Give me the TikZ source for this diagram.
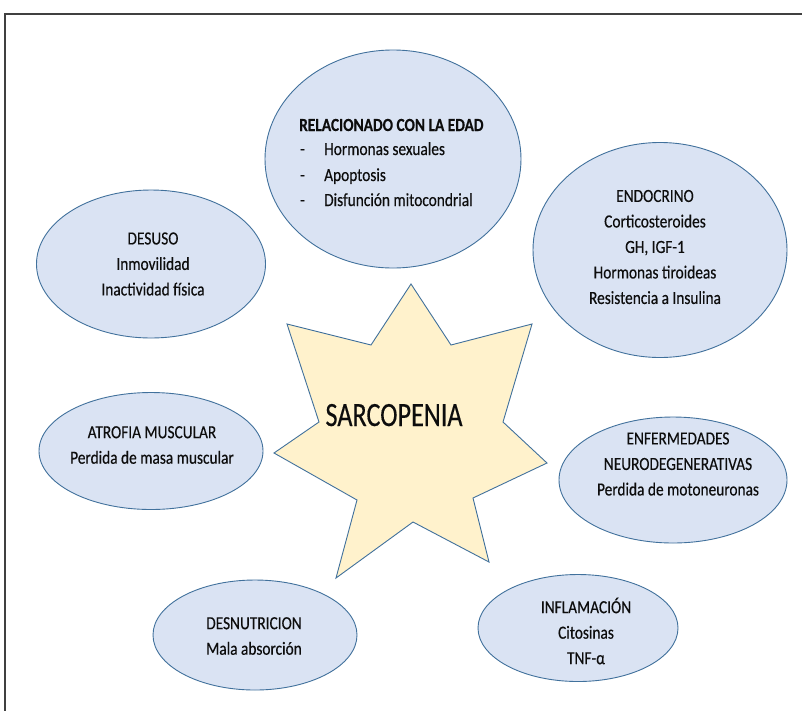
\documentclass[tikz,border=0pt]{standalone}
\usepackage{fontspec}
\setmainfont[FakeStretch=0.83,FakeBold=0.35]{Carlito}
\newfontfamily\bigfont[FakeStretch=0.77,FakeBold=0.3]{Carlito}
\usetikzlibrary{shapes.geometric}
\definecolor{fillblue}{HTML}{DAE3F3}
\definecolor{edgeblue}{HTML}{41719C}
\definecolor{starfill}{HTML}{FFF2CC}
\definecolor{framecol}{HTML}{404040}
\definecolor{txt}{HTML}{0D0D0D}
\tikzset{
  ellip/.style={ellipse, draw=edgeblue, fill=fillblue, line width=0.9pt, inner sep=0pt},
  lbl/.style={align=center, inner sep=0pt, text=txt, font=\fontsize{18.5}{25.5}\selectfont},
  ltxt/.style={inner sep=0pt, text=txt, font=\fontsize{18.5}{25.5}\selectfont, anchor=base west},
}
\begin{document}
\begin{tikzpicture}[x=1pt,y=-1pt]
\useasboundingbox (0,0) rectangle (802,710);
\fill[white] (0,0) rectangle (802,710);
% frame
\coordinate (fa) at (5,711);
\coordinate (fb) at (5,14);
\coordinate (fc) at (803,14);
\draw[framecol, line width=1.3pt] (fa) -- (fb) -- (fc);
% star
\draw[edgeblue, fill=starfill, line width=0.9pt, line join=miter]
  (411,284) -- (451,345) -- (532,324) -- (503,422) -- (547,463) -- (473,498)
  -- (489,562) -- (413,522) -- (336,578) -- (357,500) -- (274,453) -- (319,422)
  -- (287,324) -- (371,345) -- cycle;
\node[inner sep=0pt, anchor=base, text=txt, font=\bigfont\fontsize{34}{40}\selectfont] (sarc) at (394,426) {SARCOPENIA};
% ellipses
\node[ellip, minimum width=256pt, minimum height=218pt] (age) at (393,159) {};
\node[ellip, minimum width=254pt, minimum height=215pt] (endo) at (660,250) {};
\node[ellip, minimum width=229pt, minimum height=148pt] (desuso) at (151,264) {};
\node[ellip, minimum width=224pt, minimum height=117pt] (atrof) at (151,451) {};
\node[ellip, minimum width=228pt, minimum height=126pt] (enferm) at (673,480) {};
\node[ellip, minimum width=204pt, minimum height=110pt] (desnut) at (255,635) {};
\node[ellip, minimum width=200pt, minimum height=107pt] (inflam) at (578,628) {};
% texts
\node[ltxt, font=\bfseries\fontsize{18.5}{25.5}\selectfont] (ageT) at (299,131) {RELACIONADO CON LA EDAD};
\node[ltxt] (d1) at (300,155) {-};
\node[ltxt] (t1) at (324,155) {Hormonas sexuales};
\node[ltxt] (d2) at (300,181) {-};
\node[ltxt] (t2) at (324,181) {Apoptosis};
\node[ltxt] (d3) at (300,206) {-};
\node[ltxt] (t3) at (324,206) {Disfunción mitocondrial};
\node[lbl] (endoT) at (655,247) {ENDOCRINO\\Corticosteroides\\GH, IGF-1\\Hormonas tiroideas\\Resistencia a Insulina};
\node[lbl] (desusoT) at (153,264) {DESUSO\\Inmovilidad\\Inactividad física};
\node[lbl] (atrofT) at (152,445) {ATROFIA MUSCULAR\\Perdida de masa muscular};
\node[lbl] (enfermT) at (678,464) {ENFERMEDADES\\NEURODEGENERATIVAS\\Perdida de motoneuronas};
\node[lbl] (desnutT) at (254,636) {DESNUTRICION\\Mala absorción};
\node[lbl] (inflamT) at (586,631) {INFLAMACIÓN\\Citosinas\\TNF-α};
\end{tikzpicture}
\end{document}
